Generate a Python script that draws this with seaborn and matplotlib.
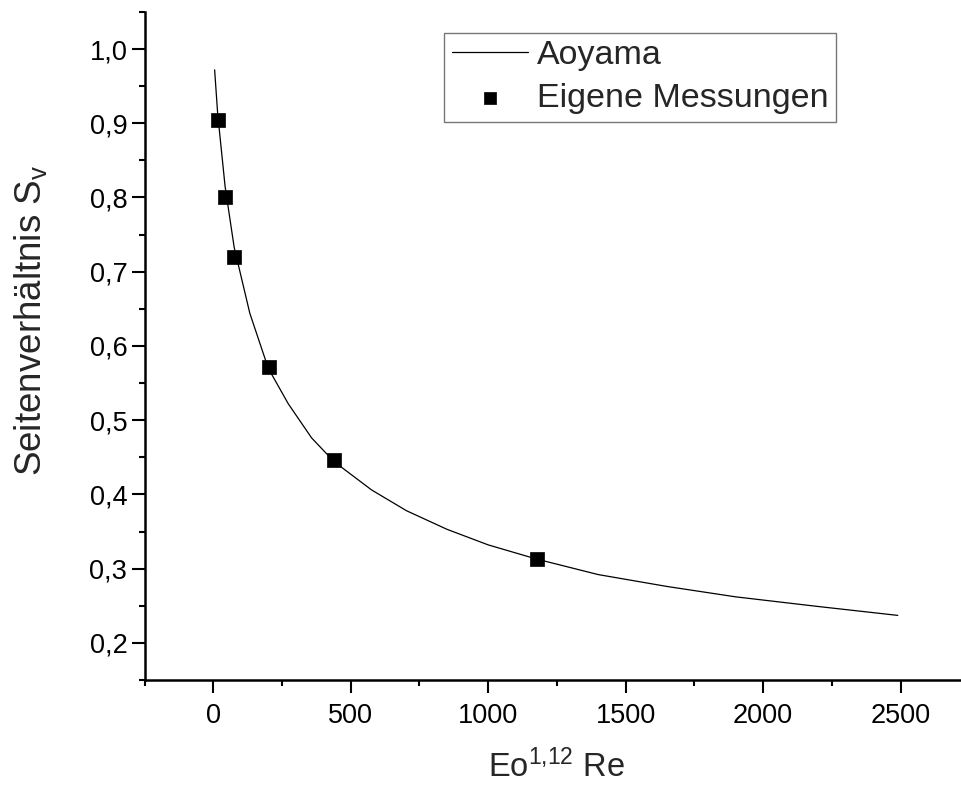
import matplotlib
matplotlib.use("Agg")
import matplotlib.pyplot as plt
import matplotlib.ticker as mticker
import seaborn as sns
import pandas as pd

# Aoyama curve
curve_x = [5, 16, 43, 76, 133, 200, 273, 358, 440, 576, 703, 850, 1000, 1175,
           1400, 1650, 1900, 2200, 2490]
curve_y = [0.972, 0.913, 0.815, 0.733, 0.644, 0.570, 0.522, 0.476, 0.444, 0.406,
           0.378, 0.353, 0.332, 0.313, 0.292, 0.276, 0.262, 0.249, 0.237]

# Own measurements
meas_x = [16, 43, 76, 202, 438, 1177]
meas_y = [0.905, 0.800, 0.720, 0.571, 0.446, 0.3135]

x_ticks = [0, 500, 1000, 1500, 2000, 2500]
y_ticks = [0.2, 0.3, 0.4, 0.5, 0.6, 0.7, 0.8, 0.9, 1.0]

sns.set_style("ticks")
plt.rcParams['font.family'] = ['Liberation Sans', 'DejaVu Sans']
plt.rcParams['mathtext.fontset'] = 'custom'
plt.rcParams['mathtext.rm'] = 'Liberation Sans'
plt.rcParams['mathtext.it'] = 'Liberation Sans'

df_c = pd.DataFrame({"x": curve_x, "y": curve_y})
df_m = pd.DataFrame({"x": meas_x, "y": meas_y})

fig = plt.figure(figsize=(9.61, 7.85), dpi=100)
ax = fig.add_axes([0.1504, 0.1338, 0.8496, 0.851])

sns.lineplot(data=df_c, x="x", y="y", ax=ax, color="black", linewidth=0.9,
             label="Aoyama", sort=False)
sns.scatterplot(data=df_m, x="x", y="y", ax=ax, color="black", marker="s",
                s=110, edgecolor="black", linewidth=0.5, label="Eigene Messungen",
                zorder=3)

ax.set_xlim(-250, 2720)
ax.set_ylim(0.15, 1.05)
ax.set_xticks(x_ticks)
ax.set_yticks(y_ticks)
ax.xaxis.set_minor_locator(mticker.MultipleLocator(250))
ax.yaxis.set_minor_locator(mticker.MultipleLocator(0.05))
ax.yaxis.set_major_formatter(mticker.FuncFormatter(lambda v, p: f"{v:.1f}".replace(".", ",")))
ax.xaxis.set_major_formatter(mticker.FuncFormatter(lambda v, p: f"{int(round(v))}"))

for s in ["top", "right"]:
    ax.spines[s].set_visible(False)
for s in ["left", "bottom"]:
    ax.spines[s].set_linewidth(1.8)
    ax.spines[s].set_color("black")

ax.tick_params(which="major", direction="out", length=9.4, width=1.5,
               labelsize=19.5, colors="black")
ax.tick_params(axis="x", which="major", pad=7)
ax.tick_params(axis="y", which="major", pad=3)
ax.tick_params(which="minor", direction="out", length=4.5, width=1.5, colors="black")

ax.set_xlabel(r"Eo$^{1{,}12}$ Re", fontsize=23.5, labelpad=15)
ax.set_ylabel(r"Seitenverhältnis S$_\mathregular{v}$", fontsize=26.5, labelpad=29)
ax.xaxis.label.set_x(0.505)
ax.yaxis.label.set_y(0.539)

leg = ax.legend(loc="upper left", bbox_to_anchor=(0.367, 0.9686), borderaxespad=0,
                fontsize=24.5, frameon=True, fancybox=False, edgecolor="#555555",
                handlelength=2.25, handletextpad=0.25, borderpad=0.22,
                labelspacing=0.35, markerscale=0.85)
leg.get_frame().set_linewidth(1.0)

fig.savefig("out.png", dpi=100)
